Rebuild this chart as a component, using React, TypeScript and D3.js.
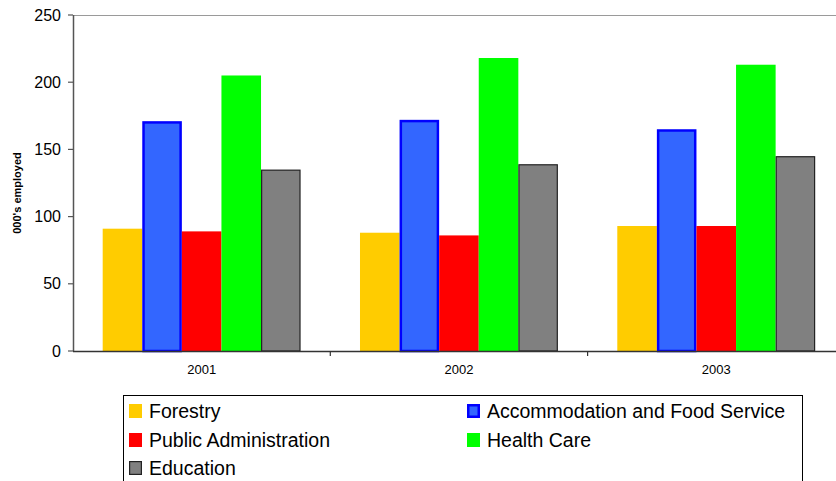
import React, { useEffect, useRef } from "react";
import * as d3 from "d3";

// Employment by sector, thousands of people
const years = ["2001", "2002", "2003"];
const sectors = [
  "Forestry",
  "Accommodation and Food Service",
  "Public Administration",
  "Health Care",
  "Education",
];
const forestry = [91, 88, 93];
const accommodation = [171, 172, 165];
const publicAdmin = [89, 86, 93];
const healthCare = [205, 218, 213];
const education = [135, 139, 145];
const yTicks = [0, 50, 100, 150, 200, 250];

const seriesValues = [forestry, accommodation, publicAdmin, healthCare, education];
const fills = ["#FFCC00", "#3366FF", "#FF0000", "#00FF00", "#808080"];
const strokes = ["none", "#0000FF", "none", "none", "#222222"];
const strokeWidths = [0, 2.5, 0, 0, 1.2];

const W = 836;
const H = 481;
const FONT = "'Liberation Sans', Arial, Helvetica, sans-serif";

export default function App() {
  const ref = useRef<SVGSVGElement | null>(null);

  useEffect(() => {
    const svg = d3.select(ref.current);
    svg.selectAll("*").remove();

    const left = 73;
    const top = 15;
    const bottom = 351;
    const bandW = 257.3;

    const y = d3.scaleLinear().domain([0, 250]).range([bottom, top]);
    const x = d3
      .scaleBand<string>()
      .domain(years)
      .range([left, left + bandW * years.length])
      .paddingInner(0)
      .paddingOuter(0);
    const xs = d3
      .scaleBand<string>()
      .domain(sectors)
      .range([0, x.bandwidth()])
      .paddingInner(0)
      .paddingOuter(0.75);

    // plot area top edge
    svg
      .append("line")
      .attr("x1", left)
      .attr("x2", W)
      .attr("y1", top + 0.5)
      .attr("y2", top + 0.5)
      .attr("stroke", "#9a9a9a")
      .attr("stroke-width", 1.2);

    // bars
    sectors.forEach((s, si) => {
      const g = svg.append("g");
      years.forEach((yr, i) => {
        const v = seriesValues[si][i];
        const sw = strokeWidths[si];
        const x0 = (x(yr) as number) + (xs(s) as number);
        const w = xs.bandwidth();
        g.append("rect")
          .attr("x", x0 + sw / 2)
          .attr("y", y(v) + sw / 2)
          .attr("width", w - sw)
          .attr("height", y(0) - y(v) - sw / 2)
          .attr("fill", fills[si])
          .attr("stroke", strokes[si])
          .attr("stroke-width", sw);
      });
    });

    // y axis
    const ya = svg.append("g");
    ya.append("line")
      .attr("x1", left + 0.5)
      .attr("x2", left + 0.5)
      .attr("y1", top)
      .attr("y2", bottom)
      .attr("stroke", "#555")
      .attr("stroke-width", 1.5);
    yTicks.forEach((t) => {
      ya.append("line")
        .attr("x1", left - 5)
        .attr("x2", left)
        .attr("y1", y(t))
        .attr("y2", y(t))
        .attr("stroke", "#555")
        .attr("stroke-width", 1.2);
      ya.append("text")
        .attr("x", 61)
        .attr("y", y(t))
        .attr("dy", "0.35em")
        .attr("text-anchor", "end")
        .attr("font-family", FONT)
        .attr("font-size", 16)
        .attr("fill", "#000")
        .text(String(t));
    });

    // x axis
    const xa = svg.append("g");
    xa.append("line")
      .attr("x1", left)
      .attr("x2", W)
      .attr("y1", bottom + 0.5)
      .attr("y2", bottom + 0.5)
      .attr("stroke", "#333")
      .attr("stroke-width", 1.5);
    years.forEach((yr) => {
      const bx = x(yr) as number;
      xa.append("line")
        .attr("x1", bx + bandW)
        .attr("x2", bx + bandW)
        .attr("y1", bottom)
        .attr("y2", bottom + 5)
        .attr("stroke", "#333")
        .attr("stroke-width", 1.2);
      xa.append("text")
        .attr("x", bx + x.bandwidth() / 2)
        .attr("y", 374)
        .attr("text-anchor", "middle")
        .attr("font-family", FONT)
        .attr("font-size", 13)
        .attr("fill", "#000")
        .text(yr);
    });

    // y axis title
    svg
      .append("text")
      .attr("transform", "translate(21,193) rotate(-90)")
      .attr("text-anchor", "middle")
      .attr("font-family", FONT)
      .attr("font-size", 11)
      .attr("font-weight", "bold")
      .attr("fill", "#000")
      .text("000's employed");

    // legend
    const lg = svg.append("g");
    lg.append("rect")
      .attr("x", 123.5)
      .attr("y", 395.5)
      .attr("width", 679)
      .attr("height", 120)
      .attr("fill", "#fff")
      .attr("stroke", "#000")
      .attr("stroke-width", 1);
    const colX = [129, 467];
    const rowY = [411, 440, 468];
    sectors.forEach((s, i) => {
      const cx = colX[i % 2];
      const cy = rowY[Math.floor(i / 2)];
      const sw = strokeWidths[i];
      lg.append("rect")
        .attr("x", cx + sw / 2)
        .attr("y", cy - 7 + sw / 2)
        .attr("width", 13 - sw)
        .attr("height", 14 - sw)
        .attr("fill", fills[i])
        .attr("stroke", strokes[i])
        .attr("stroke-width", sw);
      lg.append("text")
        .attr("x", cx + 20)
        .attr("y", cy)
        .attr("dy", "0.36em")
        .attr("font-family", FONT)
        .attr("font-size", 19.5)
        .attr("fill", "#000")
        .text(s);
    });
  }, []);

  return (
    <svg
      ref={ref}
      width={W}
      height={H}
      style={{ position: "absolute", left: 0, top: 0, display: "block", background: "#fff" }}
    />
  );
}
